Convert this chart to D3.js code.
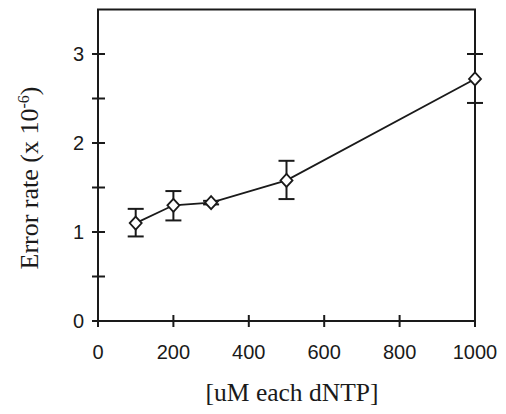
<!DOCTYPE html>
<html>
<head>
<meta charset="utf-8">
<script src="https://cdn.jsdelivr.net/npm/d3@7"></script>
<style>
  body { margin: 0; background: #fff; }
  svg { display: block; }
</style>
</head>
<body>
<div id="chart"></div>
<script>
// data
const dntp = [100, 200, 300, 500, 1000];
const errorRate = [1.10, 1.30, 1.33, 1.58, 2.72];
const errLow = [0.95, 1.13, 1.31, 1.37, 2.45];
const errHigh = [1.26, 1.46, 1.35, 1.80, 3.00];
const xTicks = [0, 200, 400, 600, 800, 1000];
const yTicks = [0, 0.5, 1, 1.5, 2, 2.5, 3];
const yLabels = [0, 1, 2, 3];

const width = 506;
const height = 414;
const margin = { left: 98, right: 31, top: 9.5, bottom: 93 };

const svg = d3.select("#chart")
    .append("svg")
    .attr("width", width)
    .attr("height", height);

const x = d3.scaleLinear()
    .domain([0, 1000])
    .range([margin.left, width - margin.right]);

const y = d3.scaleLinear()
    .domain([0, 3.5])
    .range([height - margin.bottom, margin.top]);

const ink = "#1a1a1a";

// frame
svg.append("rect")
    .attr("x", x(0))
    .attr("y", y(3.5))
    .attr("width", x(1000) - x(0))
    .attr("height", y(0) - y(3.5))
    .attr("fill", "none")
    .attr("stroke", ink)
    .attr("stroke-width", 2);

// y ticks cross the axis
svg.selectAll(".ytick")
    .data(yTicks)
    .enter().append("line")
    .attr("class", "ytick")
    .attr("x1", x(0) - 6)
    .attr("x2", x(0) + 7)
    .attr("y1", d => y(d))
    .attr("y2", d => y(d))
    .attr("stroke", ink)
    .attr("stroke-width", 2);

svg.selectAll(".ylab")
    .data(yLabels)
    .enter().append("text")
    .attr("class", "ylab")
    .attr("x", x(0) - 14)
    .attr("y", d => y(d) + 7)
    .attr("text-anchor", "end")
    .attr("font-family", "Liberation Sans, Arial, sans-serif")
    .attr("font-size", 20)
    .attr("fill", ink)
    .text(d => d);

// x ticks
svg.selectAll(".xtick")
    .data(xTicks)
    .enter().append("line")
    .attr("class", "xtick")
    .attr("x1", d => x(d))
    .attr("x2", d => x(d))
    .attr("y1", y(0) - 6)
    .attr("y2", y(0) + 6)
    .attr("stroke", ink)
    .attr("stroke-width", 2);

svg.selectAll(".xlab")
    .data(xTicks)
    .enter().append("text")
    .attr("class", "xlab")
    .attr("x", d => x(d))
    .attr("y", y(0) + 38)
    .attr("text-anchor", "middle")
    .attr("font-family", "Liberation Sans, Arial, sans-serif")
    .attr("font-size", 20)
    .attr("fill", ink)
    .text(d => d);

// axis titles
svg.append("text")
    .attr("x", 292)
    .attr("y", 401)
    .attr("text-anchor", "middle")
    .attr("font-family", "Liberation Serif, Times New Roman, serif")
    .attr("font-size", 25.5)
    .attr("fill", ink)
    .text("[uM each dNTP]");

const yTitle = svg.append("text")
    .attr("transform", "translate(38,178) rotate(-90)")
    .attr("text-anchor", "middle")
    .attr("font-family", "Liberation Serif, Times New Roman, serif")
    .attr("font-size", 26)
    .attr("fill", ink);
yTitle.append("tspan").text("Error rate (x 10");
yTitle.append("tspan")
    .attr("font-size", 16)
    .attr("dy", -9)
    .text("-6");
yTitle.append("tspan")
    .attr("dy", 9)
    .text(")");

const pts = dntp.map((d, i) => ({ x: d, y: errorRate[i], lo: errLow[i], hi: errHigh[i] }));

// error bars
const eb = svg.selectAll(".eb")
    .data(pts)
    .enter().append("g")
    .attr("class", "eb")
    .attr("stroke", ink)
    .attr("stroke-width", 2);

eb.append("line")
    .attr("x1", d => x(d.x))
    .attr("x2", d => x(d.x))
    .attr("y1", d => y(d.lo))
    .attr("y2", d => y(d.hi));
eb.append("line")
    .attr("x1", d => x(d.x) - 8)
    .attr("x2", d => x(d.x) + 8)
    .attr("y1", d => y(d.lo))
    .attr("y2", d => y(d.lo));
eb.append("line")
    .attr("x1", d => x(d.x) - 8)
    .attr("x2", d => x(d.x) + 8)
    .attr("y1", d => y(d.hi))
    .attr("y2", d => y(d.hi));

// connecting line
svg.append("path")
    .datum(pts)
    .attr("fill", "none")
    .attr("stroke", ink)
    .attr("stroke-width", 1.8)
    .attr("d", d3.line().x(d => x(d.x)).y(d => y(d.y)));

// diamond markers
svg.selectAll(".pt")
    .data(pts)
    .enter().append("path")
    .attr("class", "pt")
    .attr("transform", d => `translate(${x(d.x)},${y(d.y)})`)
    .attr("d", "M0,-6.5L6,0L0,6.5L-6,0Z")
    .attr("fill", "#fff")
    .attr("stroke", ink)
    .attr("stroke-width", 1.8);
</script>
</body>
</html>
